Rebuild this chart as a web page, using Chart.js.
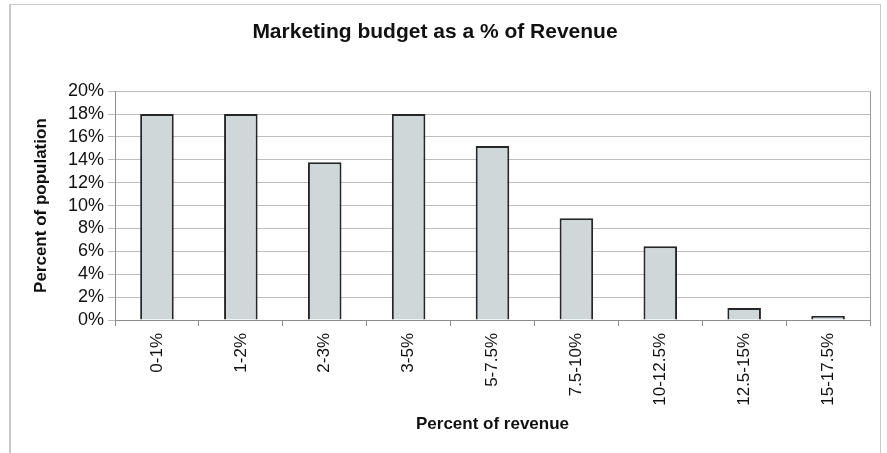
<!DOCTYPE html>
<html>
<head>
<meta charset="utf-8">
<title>Marketing budget</title>
<script src="https://cdn.jsdelivr.net/npm/chart.js@4.4.1/dist/chart.umd.min.js"></script>
<style>
  html, body { margin: 0; padding: 0; background: #fff; }
  #frame {
    position: absolute; left: 9px; top: 4px; width: 872px; height: 470px;
    border: 1px solid #c8c8c8; border-left-width: 2px; box-sizing: border-box;
  }
  #wrap { position: absolute; left: 0; top: 0; width: 887px; height: 453px; }
</style>
</head>
<body>
<div id="frame"></div>
<div id="wrap"><canvas id="grafico"></canvas></div>
<script>
// rangos de presupuesto y porcentaje de empresas en cada uno
var rangos = ['0-1%', '1-2%', '2-3%', '3-5%', '5-7.5%', '7.5-10%', '10-12.5%', '12.5-15%', '15-17.5%'];
var porcentajes = [18, 18, 13.8, 18, 15.2, 8.9, 6.45, 1.05, 0.35];

var fuente = '"Liberation Sans", Arial, sans-serif';
Chart.defaults.font.family = fuente;
Chart.defaults.color = '#111';

// borde derecho del area de dibujo
var bordeArea = {
    id: 'bordeArea',
    afterDraw: function (chart) {
        var a = chart.chartArea;
        var ctx = chart.ctx;
        ctx.save();
        ctx.strokeStyle = '#9a9a9a';
        ctx.lineWidth = 1;
        ctx.beginPath();
        ctx.moveTo(Math.round(a.right) + 0.5, a.top);
        ctx.lineTo(Math.round(a.right) + 0.5, a.bottom);
        ctx.stroke();
        ctx.restore();
    }
};

var grafico = new Chart(document.getElementById('grafico'), {
    type: 'bar',
    data: {
        labels: rangos,
        datasets: [{
            data: porcentajes,
            backgroundColor: '#cfd7d9',
            borderColor: '#262626',
            borderWidth: 2,
            barPercentage: 0.4,
            categoryPercentage: 1.0
        }]
    },
    options: {
        responsive: true,
        maintainAspectRatio: false,
        animation: false,
        layout: { padding: { left: 0, right: 17, top: 0, bottom: 0 } },
        plugins: {
            legend: { display: false },
            tooltip: { enabled: false },
            title: {
                display: true,
                text: 'Marketing budget as a % of Revenue',
                color: '#111',
                font: { size: 21, weight: 'bold' },
                padding: { top: 20, bottom: 46 }
            }
        },
        scales: {
            x: {
                afterFit: function (scale) { scale.height = 133; },
                border: { color: '#8c8c8c', width: 1 },
                grid: {
                    offset: true,
                    drawOnChartArea: false,
                    tickLength: 6,
                    color: '#8c8c8c'
                },
                ticks: {
                    autoSkip: false,
                    minRotation: 90,
                    maxRotation: 90,
                    padding: 7,
                    font: { size: 17 }
                },
                title: {
                    display: true,
                    text: 'Percent of revenue',
                    font: { size: 17, weight: 'bold' },
                    padding: { top: 4, bottom: 18 }
                }
            },
            y: {
                min: 0,
                max: 20,
                afterFit: function (scale) { scale.width = 115; },
                border: { color: '#8c8c8c', width: 1 },
                grid: {
                    color: '#bdbdbd',
                    tickLength: 7
                },
                ticks: {
                    autoSkip: false,
                    stepSize: 2,
                    padding: 4,
                    font: { size: 18 },
                    callback: function (v) { return v + '%'; }
                },
                title: {
                    display: true,
                    text: 'Percent of population',
                    font: { size: 17, weight: 'bold' },
                    padding: { top: 31, bottom: 4 }
                }
            }
        }
    },
    plugins: [bordeArea]
});
</script>
</body>
</html>
